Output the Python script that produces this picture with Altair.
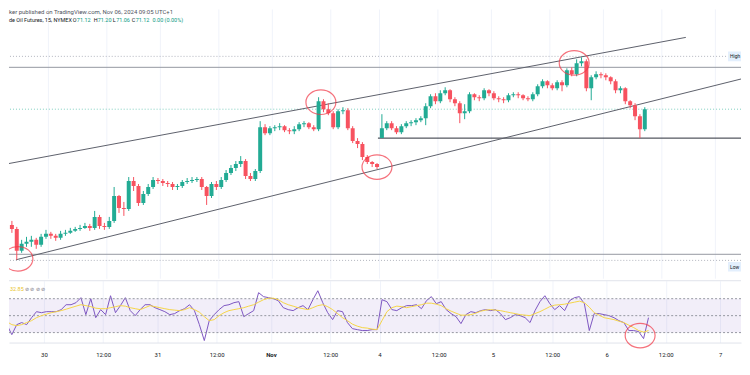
import altair as alt
import pandas as pd

# ---------------- data (hourly bars, CL futures) ----------------
SLOT = list(range(-8, 123))  # hour slots; 0 = Oct 30 00:00

OPEN = [68.22, 68.12, 67.57, 67.745, 67.795, 67.845, 67.72, 67.92,
        67.995, 67.945, 67.895, 67.995, 68.02, 68.07, 68.12, 68.145, 68.195, 68.145,
        68.42, 68.195, 68.17, 68.32, 68.945, 68.645, 68.62, 69.32, 69.195, 68.77,
        68.995, 69.17, 69.345, 69.32, 69.27, 69.245, 69.17, 69.195, 69.295, 69.32,
        69.345, 69.37, 69.17, 68.945, 69.245, 69.17, 69.345, 69.52, 69.645, 69.745,
        69.82, 69.445, 69.37, 69.57, 70.67, 70.52, 70.645, 70.67, 70.695, 70.595,
        70.57, 70.62, 70.745, 70.77, 70.67, 70.62, 71.32, 71.12, 71.02, 70.67,
        71.07, 71.095, 70.645, 70.32, 70.245, 69.92, 69.795, 69.745, 70.395, 70.645,
        70.77, 70.645, 70.545, 70.695, 70.77, 70.795, 70.845, 70.895, 71.195, 71.445,
        71.32, 71.52, 71.595, 71.37, 71.27, 71.02, 71.07, 71.495, 71.42, 71.395,
        71.595, 71.52, 71.395, 71.37, 71.345, 71.47, 71.495, 71.47, 71.395, 71.37,
        71.495, 71.695, 71.82, 71.72, 71.645, 71.795, 71.72, 72.095, 71.995, 72.27,
        72.32, 71.645, 71.92, 71.995, 71.97, 71.92, 71.82, 71.595, 71.645, 71.32,
        71.22, 70.945, 70.62]

CLOSE = [68.12, 67.57, 67.745, 67.795, 67.845, 67.72, 67.92, 67.995,
         67.945, 67.895, 67.995, 68.02, 68.07, 68.12, 68.145, 68.195, 68.145, 68.42,
         68.195, 68.17, 68.32, 68.945, 68.645, 68.62, 69.32, 69.195, 68.77, 68.995,
         69.17, 69.345, 69.32, 69.27, 69.245, 69.17, 69.195, 69.295, 69.32, 69.345,
         69.37, 69.17, 68.945, 69.245, 69.17, 69.345, 69.52, 69.645, 69.745, 69.82,
         69.445, 69.37, 69.57, 70.67, 70.52, 70.645, 70.67, 70.695, 70.595, 70.57,
         70.62, 70.745, 70.77, 70.67, 70.62, 71.32, 71.12, 71.02, 70.67, 71.07,
         71.095, 70.645, 70.32, 70.245, 69.92, 69.795, 69.745, 69.67, 70.645, 70.77,
         70.645, 70.545, 70.695, 70.77, 70.795, 70.845, 70.895, 71.195, 71.445, 71.32,
         71.52, 71.595, 71.37, 71.27, 71.02, 71.07, 71.495, 71.42, 71.395, 71.595,
         71.52, 71.395, 71.37, 71.345, 71.47, 71.495, 71.47, 71.395, 71.37, 71.495,
         71.695, 71.82, 71.72, 71.645, 71.795, 71.72, 72.095, 71.995, 72.27, 72.32,
         71.645, 71.92, 71.995, 71.97, 71.92, 71.82, 71.595, 71.645, 71.32, 71.22,
         70.945, 70.62, 71.12]

HIGH = [68.32, 68.17, 67.845, 67.92, 67.945, 67.895, 67.995, 68.095,
        68.045, 67.995, 68.07, 68.095, 68.145, 68.17, 68.22, 68.27, 68.245, 68.57,
        68.47, 68.27, 68.42, 69.17, 68.97, 68.795, 69.42, 69.42, 69.245, 69.07,
        69.245, 69.42, 69.395, 69.37, 69.32, 69.295, 69.245, 69.345, 69.395, 69.42,
        69.42, 69.42, 69.195, 69.295, 69.32, 69.42, 69.595, 69.72, 69.82, 69.945,
        69.87, 69.52, 69.62, 70.82, 70.745, 70.695, 70.72, 70.77, 70.72, 70.645,
        70.695, 70.795, 70.82, 70.795, 70.72, 71.42, 71.37, 71.27, 71.07, 71.12,
        71.17, 71.145, 70.695, 70.395, 70.295, 69.97, 69.82, 69.77, 70.995, 70.82,
        70.82, 70.695, 70.745, 70.82, 70.845, 70.895, 70.945, 71.27, 71.495, 71.52,
        71.595, 71.67, 71.62, 71.42, 71.32, 71.245, 71.545, 71.52, 71.47, 71.645,
        71.62, 71.57, 71.445, 71.42, 71.52, 71.545, 71.545, 71.495, 71.445, 71.545,
        71.745, 71.87, 71.845, 71.77, 71.845, 71.845, 72.145, 72.17, 72.37, 72.42,
        72.37, 71.97, 72.07, 72.045, 72.02, 71.945, 71.87, 71.695, 71.67, 71.345,
        71.27, 70.995, 71.17]

LOW = [68.02, 67.345, 67.52, 67.67, 67.67, 67.62, 67.67, 67.87,
       67.87, 67.82, 67.845, 67.945, 67.995, 68.045, 68.07, 68.12, 68.07, 68.095,
       68.12, 68.095, 68.12, 68.27, 68.52, 68.445, 68.57, 69.07, 68.695, 68.72,
       68.945, 69.12, 69.245, 69.195, 69.17, 69.095, 69.095, 69.145, 69.245, 69.27,
       69.295, 69.095, 68.72, 68.895, 69.095, 69.12, 69.295, 69.47, 69.57, 69.67,
       69.37, 69.32, 69.32, 69.52, 70.47, 70.47, 70.57, 70.595, 70.545, 70.495,
       70.495, 70.57, 70.67, 70.62, 70.57, 70.57, 71.045, 70.97, 70.62, 70.62,
       70.995, 70.595, 70.27, 70.145, 69.845, 69.745, 69.67, 69.62, 70.395, 70.595,
       70.595, 70.495, 70.495, 70.645, 70.695, 70.72, 70.795, 70.72, 71.145, 71.245,
       71.27, 71.47, 71.295, 71.195, 70.77, 70.87, 71.02, 71.345, 71.32, 71.345,
       71.445, 71.345, 71.295, 71.27, 71.295, 71.42, 71.395, 71.345, 71.32, 71.32,
       71.445, 71.645, 71.645, 71.595, 71.595, 71.57, 71.67, 71.945, 71.945, 72.195,
       71.57, 71.345, 71.87, 71.895, 71.845, 71.745, 71.52, 71.52, 71.245, 71.145,
       70.845, 70.395, 70.57]

RSI = [39.4, 27.6, 39.4, 41.8, 39.4, 47.6, 54.7, 53.5,
       54.7, 54.7, 54.7, 57.1, 62.9, 62.9, 65.3, 71.2, 51.2, 70,
       47.6, 57.1, 51.2, 73.5, 53.5, 61.8, 71.2, 55.9, 50, 57.1,
       62.9, 62.9, 59.4, 57.1, 54.7, 51.2, 52.4, 55.9, 58.2, 62.9,
       55.9, 39.4, 20.6, 44.1, 51.2, 57.1, 61.8, 62.9, 65.3, 66.5,
       48.8, 52.4, 55.9, 77.1, 72.4, 71.2, 70, 67.6, 59.4, 57.1,
       55.9, 59.4, 61.8, 57.1, 68.8, 79.4, 65.3, 53.5, 45.3, 55.9,
       54.7, 41.8, 34.7, 33.5, 32.4, 32.4, 33.5, 33.5, 68.8, 66.5,
       57.1, 55.9, 59.4, 61.8, 61.8, 62.9, 58.2, 67.6, 72.4, 64.1,
       66.5, 57.1, 52.4, 48.8, 40.6, 51.2, 54.7, 53.5, 55.9, 57.1,
       55.9, 57.1, 52.4, 45.3, 47.6, 51.2, 50, 47.6, 41.8, 55.9,
       66.5, 73.5, 64.1, 57.1, 61.8, 55.9, 67.6, 71.2, 72.4, 64.1,
       32.4, 52.4, 52.4, 51.2, 50, 47.6, 44.1, 41.8, 32.4, 32.4,
       31.2, 22.9, 47.6]

RSI_MA = [42.9, 39.4, 38.2, 39.4, 41.8, 44.1, 47.6, 50,
          51.8, 53.5, 54.7, 55.9, 57.6, 59.4, 61.2, 62.9, 61.8, 60.6,
          58.8, 58.2, 58.2, 59.4, 60.6, 61.8, 61.2, 59.4, 58.2, 57.1,
          59.4, 61.8, 60.6, 59.4, 58.2, 57.1, 56.5, 55.9, 57.1, 59.4,
          57.1, 54.1, 48.8, 44.1, 45.3, 50, 53.5, 55.9, 57.1, 58.2,
          59.4, 61.2, 62.9, 65.9, 68.8, 70.6, 70.6, 68.8, 65.3, 62.9,
          61.2, 59.4, 58.2, 57.1, 59.4, 61.8, 62.9, 60.6, 57.1, 52.4,
          47.6, 44.1, 40, 37.6, 35.9, 35.3, 34.1, 33.5, 44.1, 54.7,
          59.4, 61.2, 60.6, 59.4, 60.6, 61.8, 62.9, 64.7, 64.7, 63.5,
          61.8, 58.2, 55.3, 52.9, 50.6, 50.6, 51.2, 52.9, 55.3, 56.5,
          57.1, 56.5, 55.9, 54.7, 53.5, 52.4, 51.2, 50.6, 50, 52.4,
          54.7, 57.6, 60.6, 62.4, 62.9, 63.5, 64.7, 65.9, 67.1, 65.3,
          60, 53.5, 50.6, 47.6, 46.5, 45.3, 43.5, 41.8, 38.8, 35.9,
          32.4, 30.6, 32.4]

TICK_POS = [0, 12, 23, 35, 46, 58, 68, 80, 91, 103, 114, 126, 137]
TICK_LABELS = ["30", "12:00", "31", "12:00", "Nov", "12:00", "4", "12:00",
               "5", "12:00", "6", "12:00", "7"]

# drawings (time slot, price)
TREND_T0 = [-8.69, -6.67]
TREND_P0 = [69.745, 67.345]
TREND_T1 = [130.93, 142.86]
TREND_P1 = [72.92, 71.895]
LEVELS_GRAY = [72.17, 67.483]
SUPPORT_T = [67.69, 150.0]
SUPPORT_P = 70.395
HIGH_LVL = 72.445
LOW_LVL = 67.33
LAST_PRICE = 71.12
CIRCLE_T = [-6.26, 55.97, 67.49, 108.0]
CIRCLE_P = [67.37, 71.295, 69.67, 72.28]
RSI_CIRCLE_T = [120.8]
RSI_CIRCLE_V = [26.5]

# ---------------- chart ----------------
UP = "#22ab94"
DOWN = "#f7525f"
FONT = "Roboto"

df = pd.DataFrame({"slot": SLOT, "open": OPEN, "high": HIGH, "low": LOW,
                   "close": CLOSE, "rsi": RSI, "ma": RSI_MA})
df["t"] = df["slot"] + 0.5

xs = alt.Scale(domain=[-7.072, 141.24], nice=False, zero=False)
ys = alt.Scale(domain=[66.87, 73.62], nice=False, zero=False)
rs = alt.Scale(domain=[18.24, 91.18], nice=False, zero=False)

W = 734
base = alt.Chart(df)
ccol = alt.condition("datum.close >= datum.open", alt.value(UP), alt.value(DOWN))
X = alt.X("t:Q", scale=xs, axis=None)

ticks_df = pd.DataFrame({"t": TICK_POS})
grid_main = alt.Chart(ticks_df).mark_rule(color="#f0f3fa", strokeWidth=1).encode(
    x=alt.X("t:Q", scale=xs, axis=None))

gray_levels = alt.Chart(pd.DataFrame({"p": LEVELS_GRAY})).mark_rule(
    color="#9598a1", strokeWidth=1).encode(y=alt.Y("p:Q", scale=ys, axis=None))

support = alt.Chart(pd.DataFrame({"t0": [SUPPORT_T[0]], "t1": [SUPPORT_T[1]], "p": [SUPPORT_P]})).mark_rule(
    color="#2a2e39", strokeWidth=1, clip=True).encode(
    x=alt.X("t0:Q", scale=xs, axis=None), x2="t1:Q", y=alt.Y("p:Q", scale=ys, axis=None))

dotted_hl = alt.Chart(pd.DataFrame({"p": [HIGH_LVL, LOW_LVL]})).mark_rule(
    color="#b2b5be", strokeWidth=1, strokeDash=[1, 2]).encode(y=alt.Y("p:Q", scale=ys, axis=None))
dotted_last = alt.Chart(pd.DataFrame({"p": [LAST_PRICE]})).mark_rule(
    color="#7fcfc0", strokeWidth=1, strokeDash=[1, 2]).encode(y=alt.Y("p:Q", scale=ys, axis=None))

trends = alt.Chart(pd.DataFrame({"t0": TREND_T0, "p0": TREND_P0, "t1": TREND_T1, "p1": TREND_P1})).mark_rule(
    color="#5d606b", strokeWidth=1, clip=True).encode(
    x=alt.X("t0:Q", scale=xs, axis=None), x2="t1:Q",
    y=alt.Y("p0:Q", scale=ys, axis=None), y2="p1:Q")

wicks = base.mark_rule(strokeWidth=1, clip=True).encode(
    x=X, y=alt.Y("low:Q", scale=ys, axis=None), y2="high:Q", color=ccol)
bodies = base.mark_bar(size=4, clip=True).encode(
    x=X, y=alt.Y("open:Q", scale=ys, axis=None), y2="close:Q", color=ccol)

ELLIPSE = "M -1 0 A 1 0.82 0 1 0 1 0 A 1 0.82 0 1 0 -1 0 Z"
circles = alt.Chart(pd.DataFrame({"t": CIRCLE_T, "p": CIRCLE_P})).mark_point(
    shape=ELLIPSE, size=900, filled=False, color="#f23645", strokeWidth=1.2, clip=True).encode(
    x=alt.X("t:Q", scale=xs, axis=None), y=alt.Y("p:Q", scale=ys, axis=None))

def label(txt, x, y, color="#131722", size=5.5, weight="normal", baseline="middle", clip=False):
    return alt.Chart(pd.DataFrame({"a": [0]})).mark_text(
        text=txt, align="left", baseline=baseline, fontSize=size, font=FONT,
        color=color, fontWeight=weight, clip=clip).encode(x=alt.value(x), y=alt.value(y))

GREEN_TXT = "#089981"
header = [
    label("ker published on TradingView.com, Nov 06, 2024 09:05 UTC+1", 0, 0,
          color="#50535e", baseline="top", size=6),
    label("de Oil Futures, 15, NYMEX", 0, 11),
    label("O", 64, 11), label("71.12", 68, 11, color=GREEN_TXT),
    label("H", 85, 11), label("71.20", 89, 11, color=GREEN_TXT),
    label("L", 104, 11), label("71.06", 107.5, 11, color=GREEN_TXT),
    label("C", 123, 11), label("71.12", 127, 11, color=GREEN_TXT),
    label("0.00 (0.00%)", 144, 11, color=GREEN_TXT),
]

hl_box = alt.Chart(pd.DataFrame({"p1": [HIGH_LVL + 0.12, LOW_LVL - 0.04],
                                 "p2": [HIGH_LVL - 0.12, LOW_LVL - 0.28]})).mark_rect(
    color="#e3effd", clip=True).encode(x=alt.value(721), x2=alt.value(W),
                                       y=alt.Y("p1:Q", scale=ys, axis=None), y2="p2:Q")
hl_txt = alt.Chart(pd.DataFrame({"p": [HIGH_LVL, LOW_LVL - 0.16], "s": ["High", "Low"]})).mark_text(
    align="left", baseline="middle", fontSize=5, font=FONT, color="#131722", clip=True).encode(
    x=alt.value(723), y=alt.Y("p:Q", scale=ys, axis=None), text="s:N")

main = alt.layer(grid_main, gray_levels, dotted_hl, dotted_last, support, trends,
                 wicks, bodies, circles, hl_box, hl_txt, *header).properties(width=W, height=270)

# ---------------- RSI pane ----------------
label_expr = ""
for p, l in zip(TICK_POS, TICK_LABELS):
    label_expr += f"datum.value == {p} ? '{l}' : "
label_expr += "''"

x_axis = alt.Axis(values=TICK_POS, labelExpr=label_expr, grid=True, gridColor="#f0f3fa",
                  ticks=False, domain=True, domainColor="#e0e3eb", labelFontSize=6,
                  labelColor="#131722", labelFont=FONT, labelPadding=9, labelFlush=False,
                  labelOverlap=False, labelBound=False, title=None,
                  labelFontWeight={"condition": {"test": "datum.value == 46", "value": "bold"},
                                   "value": "normal"})

band = alt.Chart(pd.DataFrame({"a": [70], "b": [30]})).mark_rect(
    color="#7e57c2", opacity=0.1).encode(
    x=alt.value(0), x2=alt.value(W), y=alt.Y("a:Q", scale=rs, axis=None), y2="b:Q")
band_lines = alt.Chart(pd.DataFrame({"v": [70, 50, 30]})).mark_rule(
    color="#9598a1", strokeWidth=1, strokeDash=[2, 2]).encode(y=alt.Y("v:Q", scale=rs, axis=None))
sep = alt.Chart(pd.DataFrame({"v": [91.18]})).mark_rule(color="#e0e3eb", strokeWidth=1).encode(
    y=alt.Y("v:Q", scale=rs, axis=None))

rsi_x = alt.X("t:Q", scale=xs, axis=x_axis)
rsi_line = base.mark_line(color="#7e57c2", strokeWidth=1, clip=True).encode(
    x=rsi_x, y=alt.Y("rsi:Q", scale=rs, axis=None))
ma_line = base.mark_line(color="#f5d547", strokeWidth=1, clip=True).encode(
    x=rsi_x, y=alt.Y("ma:Q", scale=rs, axis=None))
rsi_circle = alt.Chart(pd.DataFrame({"t": RSI_CIRCLE_T, "v": RSI_CIRCLE_V})).mark_point(
    shape=ELLIPSE, size=900, filled=False, color="#f23645", strokeWidth=1.2).encode(
    x=rsi_x, y=alt.Y("v:Q", scale=rs, axis=None))

rsi_legend = [
    label("32.85", 1, 8, color="#e8c42c"),
    label("\u2298 \u2298 \u2298 \u2298", 16, 8, color="#6a6d78"),
]

rsi_pane = alt.layer(rsi_line, band, band_lines, sep, ma_line, rsi_circle, *rsi_legend).properties(
    width=W, height=62)

chart = alt.vconcat(main, rsi_pane, spacing=0).properties(padding=0).configure_view(stroke=None)

chart.save("out.html", embed_options={"renderer": "svg", "actions": False})
